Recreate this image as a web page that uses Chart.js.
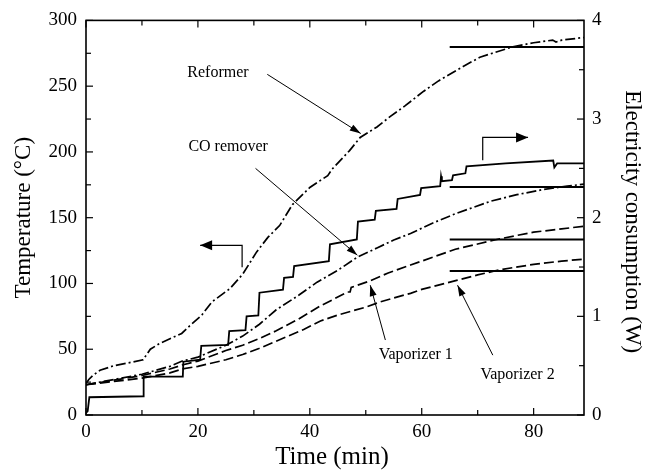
<!doctype html>
<html>
<head>
<meta charset="utf-8">
<title>Temperature and electricity consumption</title>
<script src="https://cdn.jsdelivr.net/npm/chart.js"></script>
<style>
  html, body { margin: 0; padding: 0; background: #fff; }
  canvas { display: block; }
</style>
</head>
<body>
<canvas id="myChart" width="651" height="471"></canvas>
<script>
// temperatures (°C) against time (min)
const reformerTime = [0, 0.5, 1.2, 2.5, 5, 8, 10.2, 11.5, 13, 15, 17.1, 18.6, 20.7, 22.5, 25.7, 28, 30.5, 32.5, 34.6, 36.9, 40, 43.2, 44, 47.1, 49, 52, 54.4, 57, 60.3, 63, 67.4, 70.4, 76.3, 80, 83.4, 84, 85, 89];
const reformerTemp = [24, 27, 30, 34, 37.5, 40, 42, 50, 54, 58, 62, 68, 76, 86, 96, 107, 124, 135, 144, 160, 173, 182, 187, 201, 211, 219, 227, 235, 246, 254, 265, 272, 280, 283, 285, 283.5, 285, 287];

const coTime = [0, 5, 10, 15, 17.2, 20, 25, 28, 31, 34, 38, 41.3, 45, 48.5, 52, 55, 58, 62, 66, 72.3, 77, 81.8, 86, 89];
const coTemp = [23, 27, 31, 37, 41, 44, 53, 60, 69, 80, 91, 101, 110, 120, 127, 133, 138, 146, 153, 162.5, 167.5, 171.5, 174, 175.5];

const vap1Time = [0, 5, 10, 15, 17.2, 20, 25, 28, 30.9, 34, 38, 41.9, 44, 46.7, 47.2, 47.4, 50.8, 54, 58, 62, 66, 70, 74, 80, 85, 89];
const vap1Temp = [23, 26.5, 30, 35, 38, 41, 49, 53, 58, 64, 73, 83, 87.5, 93.5, 93.5, 97, 102, 108, 114, 120, 126, 130, 134, 139, 141.5, 143.5];

const vap2Time = [0, 5, 10, 15, 17.2, 20, 25, 28, 30.9, 35, 38.9, 41.9, 45, 50, 52.6, 55, 58, 60, 66.4, 70, 74, 80, 85, 89];
const vap2Temp = [23, 25.5, 28, 32, 35, 37, 42, 46, 50.5, 58, 65, 71.5, 76, 82, 86, 89, 92.5, 95.5, 102.5, 106.5, 110.5, 114.5, 117, 118.5];

// electricity consumption (W), step curve
const powerTime = [0, 0.3, 0.6, 10.2, 10.3, 17.3, 17.4, 20.4, 20.6, 25.4, 25.6, 28.5, 28.7, 30.8, 31.0, 35.2, 35.4, 37.0, 37.2, 43.4, 43.6, 48.4, 48.6, 51.6, 51.8, 55.5, 55.7, 59.7, 59.9, 63.3, 63.45, 63.6, 65.4, 65.6, 67.8, 68.0, 75, 83.5, 83.7, 84.2, 89];
const powerW = [0.02, 0.04, 0.18, 0.19, 0.39, 0.39, 0.54, 0.56, 0.70, 0.71, 0.85, 0.86, 1.00, 1.01, 1.24, 1.27, 1.39, 1.40, 1.51, 1.56, 1.73, 1.78, 1.96, 1.98, 2.07, 2.09, 2.19, 2.23, 2.30, 2.32, 2.42, 2.37, 2.38, 2.43, 2.45, 2.52, 2.55, 2.58, 2.51, 2.55, 2.55];

// horizontal levels on the right axis (W)
const levelValues = [3.73, 2.31, 1.78, 1.46];
const levelFrom = 65;
const levelTo = 89;

const xTicks = [0, 20, 40, 60, 80];
const tempTicks = [0, 50, 100, 150, 200, 250, 300];
const powerTicks = [0, 1, 2, 3, 4];

const SERIF = "'Liberation Serif', 'Times New Roman', serif";
Chart.defaults.font.family = SERIF;
Chart.defaults.color = '#000';

function pts(xs, ys) {
    return xs.map((t, i) => ({ x: t, y: ys[i] }));
}

const dashDot = [10, 3, 2, 3];
const dashed = [10, 4];

const datasets = [
    { label: 'Reformer', data: pts(reformerTime, reformerTemp), yAxisID: 'y', borderDash: dashDot },
    { label: 'CO remover', data: pts(coTime, coTemp), yAxisID: 'y', borderDash: dashDot },
    { label: 'Vaporizer 1', data: pts(vap1Time, vap1Temp), yAxisID: 'y', borderDash: dashed },
    { label: 'Vaporizer 2', data: pts(vap2Time, vap2Temp), yAxisID: 'y', borderDash: dashed },
    { label: 'Electricity', data: pts(powerTime, powerW), yAxisID: 'y1', borderDash: [], borderWidth: 1.8 }
];
levelValues.forEach((v, i) => {
    datasets.push({ label: 'level ' + i, data: pts([levelFrom, levelTo], [v, v]), yAxisID: 'y1', borderDash: [], borderWidth: 2 });
});
datasets.forEach(d => {
    d.borderColor = '#000';
    d.backgroundColor = '#000';
    d.pointRadius = 0;
    d.fill = false;
    d.tension = 0;
    if (!d.borderWidth) d.borderWidth = 1.7;
});

// annotations in data coordinates (time, temperature)
const notes = [
    { text: 'Reformer', at: [18.1, 260.5], from: [32.4, 259], to: [49.1, 214] },
    { text: 'CO remover', at: [18.3, 204], from: [30.3, 187.5], to: [48.5, 121.5] },
    { text: 'Vaporizer 1', at: [52.3, 45.5], from: [53.5, 57], to: [50.8, 98.7] },
    { text: 'Vaporizer 2', at: [70.5, 30.4], from: [72.7, 45.5], to: [66.4, 98.7] }
];
const axisArrows = [
    [[27.9, 112.4], [27.9, 129], [20.4, 129]],
    [[70.9, 193.6], [70.9, 211], [79, 211]]
];

function arrowHead(ctx, x1, y1, x2, y2, len, w) {
    const a = Math.atan2(y2 - y1, x2 - x1);
    ctx.beginPath();
    ctx.moveTo(x2, y2);
    ctx.lineTo(x2 - len * Math.cos(a) + w / 2 * Math.sin(a), y2 - len * Math.sin(a) - w / 2 * Math.cos(a));
    ctx.lineTo(x2 - len * Math.cos(a) - w / 2 * Math.sin(a), y2 - len * Math.sin(a) + w / 2 * Math.cos(a));
    ctx.closePath();
    ctx.fill();
}

const decor = {
    id: 'decor',
    afterDraw(chart) {
        const ctx = chart.ctx;
        const a = chart.chartArea;
        const x = chart.scales.x, y = chart.scales.y, y1 = chart.scales.y1;
        const seg = (x0, y0, x3, y3) => { ctx.beginPath(); ctx.moveTo(x0, y0); ctx.lineTo(x3, y3); ctx.stroke(); };
        ctx.save();
        ctx.strokeStyle = '#000';
        ctx.fillStyle = '#000';
        ctx.setLineDash([]);

        ctx.lineWidth = 1.6;
        ctx.strokeRect(a.left, a.top, a.right - a.left, a.bottom - a.top);

        // inward ticks
        ctx.lineWidth = 1.2;
        for (let t = 0; t <= x.max; t += 10) {
            const px = x.getPixelForValue(t);
            const len = t % 20 === 0 ? 7 : 5;
            seg(px, a.bottom, px, a.bottom - len);
            seg(px, a.top, px, a.top + len);
        }
        for (let v = 0; v <= y.max; v += 25) {
            const py = y.getPixelForValue(v);
            seg(a.left, py, a.left + (v % 50 === 0 ? 7 : 5), py);
        }
        for (let v = 0; v <= y1.max; v += 0.5) {
            const py = y1.getPixelForValue(v);
            seg(a.right, py, a.right - (v % 1 === 0 ? 7 : 5), py);
        }

        // axis titles
        ctx.textAlign = 'center';
        ctx.textBaseline = 'middle';
        ctx.font = '25px ' + SERIF;
        ctx.fillText('Time (min)', 332, 457);
        ctx.font = '23px ' + SERIF;
        ctx.save();
        ctx.translate(24, (a.top + a.bottom) / 2);
        ctx.rotate(-Math.PI / 2);
        ctx.fillText('Temperature (\u00B0C)', 0, 0);
        ctx.restore();
        ctx.save();
        ctx.translate(632, (a.top + a.bottom) / 2 + 4);
        ctx.rotate(Math.PI / 2);
        ctx.fillText('Electricity consumption (W)', 0, 0);
        ctx.restore();

        // labelled arrows
        ctx.font = '16px ' + SERIF;
        ctx.textAlign = 'left';
        ctx.lineWidth = 1;
        notes.forEach(n => {
            ctx.fillText(n.text, x.getPixelForValue(n.at[0]), y.getPixelForValue(n.at[1]));
            const fx = x.getPixelForValue(n.from[0]), fy = y.getPixelForValue(n.from[1]);
            const tx = x.getPixelForValue(n.to[0]), ty = y.getPixelForValue(n.to[1]);
            seg(fx, fy, tx, ty);
            arrowHead(ctx, fx, fy, tx, ty, 11, 7);
        });

        // arrows pointing at the axes
        ctx.lineWidth = 1.2;
        axisArrows.forEach(path => {
            ctx.beginPath();
            path.forEach((p, i) => {
                const px = x.getPixelForValue(p[0]), py = y.getPixelForValue(p[1]);
                if (i === 0) ctx.moveTo(px, py); else ctx.lineTo(px, py);
            });
            ctx.stroke();
            const p1 = path[path.length - 2], p2 = path[path.length - 1];
            arrowHead(ctx, x.getPixelForValue(p1[0]), y.getPixelForValue(p1[1]),
                x.getPixelForValue(p2[0]), y.getPixelForValue(p2[1]), 12, 10);
        });
        ctx.restore();
    }
};

const tickFont = { size: 19, family: SERIF };

new Chart(document.getElementById('myChart'), {
    type: 'line',
    data: { datasets: datasets },
    options: {
        responsive: false,
        animation: false,
        layout: { padding: { top: 20, left: 0, right: 0, bottom: 0 } },
        plugins: { legend: { display: false }, tooltip: { enabled: false } },
        scales: {
            x: {
                type: 'linear', position: 'bottom', min: 0, max: 89,
                afterBuildTicks: s => { s.ticks = xTicks.map(v => ({ value: v })); },
                ticks: { font: tickFont, padding: 6, maxRotation: 0 },
                grid: { display: false, drawTicks: false },
                border: { display: false },
                afterFit: s => { s.height = 56; }
            },
            y: {
                type: 'linear', position: 'left', min: 0, max: 300,
                afterBuildTicks: s => { s.ticks = tempTicks.map(v => ({ value: v })); },
                ticks: { font: tickFont, padding: 9 },
                grid: { display: false, drawTicks: false },
                border: { display: false },
                afterFit: s => { s.width = 86; }
            },
            y1: {
                type: 'linear', position: 'right', min: 0, max: 4,
                afterBuildTicks: s => { s.ticks = powerTicks.map(v => ({ value: v })); },
                ticks: { font: tickFont, padding: 8 },
                grid: { display: false, drawTicks: false },
                border: { display: false },
                afterFit: s => { s.width = 67; }
            }
        }
    },
    plugins: [decor]
});
</script>
</body>
</html>
